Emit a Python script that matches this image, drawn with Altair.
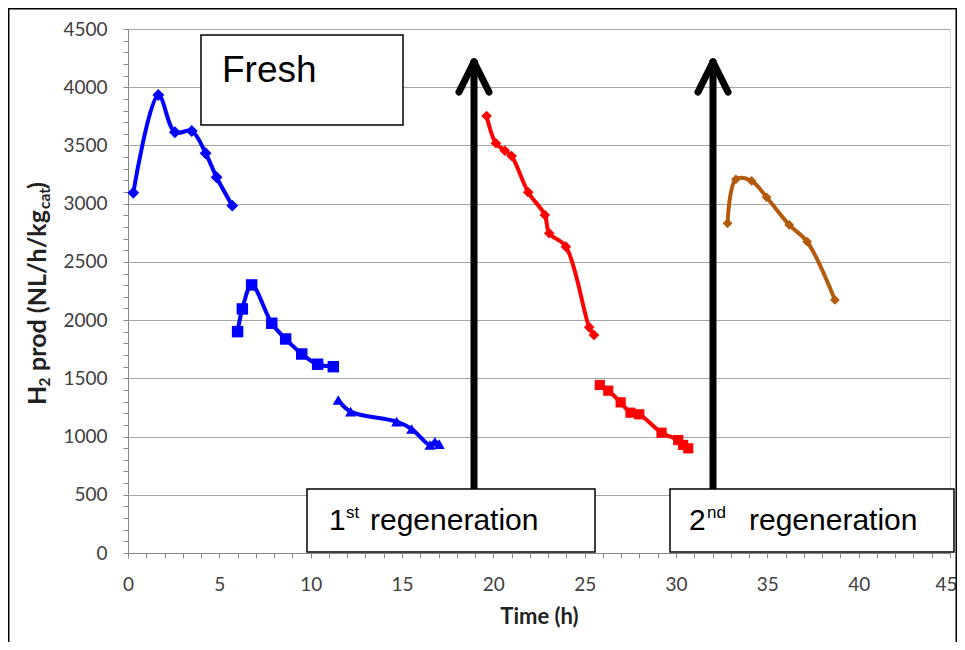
import altair as alt
import pandas as pd

# ---- data ----
fresh_a_t = [0.29, 1.66, 2.57, 3.49, 4.25, 4.85, 5.71]
fresh_a_v = [3094, 3933, 3613, 3624, 3433, 3227, 2983]
fresh_b_t = [6.0, 6.26, 6.77, 7.87, 8.63, 9.51, 10.38, 11.24]
fresh_b_v = [1901, 2096, 2302, 1973, 1838, 1709, 1621, 1600]
fresh_c_t = [11.51, 12.19, 14.71, 15.53, 16.53, 16.80, 17.04]
fresh_c_v = [1314, 1214, 1128, 1065, 928, 956, 935]
reg1_a_t = [19.63, 20.14, 20.63, 21.0, 21.91, 22.82, 23.06, 23.97, 25.25, 25.51]
reg1_a_v = [3753, 3519, 3455, 3409, 3098, 2903, 2746, 2631, 1938, 1872]
reg1_b_t = [25.83, 26.29, 26.97, 27.51, 27.99, 29.21, 30.12, 30.39, 30.67]
reg1_b_v = [1443, 1394, 1294, 1205, 1191, 1033, 970, 928, 899]
reg2_a_t = [32.82, 33.28, 34.14, 34.96, 36.2, 37.18, 38.7]
reg2_a_v = [2831, 3209, 3195, 3055, 2817, 2673, 2173]

series_names = ["Fresh A", "Fresh B", "Fresh C", "Reg1 A", "Reg1 B", "Reg2 A"]
series_colors = ["#0000FF", "#0000FF", "#0000FF", "#FF0000", "#FF0000", "#B35A0C"]
series_shapes = ["diamond", "square", "triangle-up", "diamond", "square", "diamond"]
series_sizes = [140, 95, 170, 140, 95, 140]

x_ticks = list(range(0, 46))
y_ticks = list(range(0, 4501, 100))
x_labels_every = 5
y_labels_every = 500

rows = []
for name, ts, vs in zip(series_names,
                        [fresh_a_t, fresh_b_t, fresh_c_t, reg1_a_t, reg1_b_t, reg2_a_t],
                        [fresh_a_v, fresh_b_v, fresh_c_v, reg1_a_v, reg1_b_v, reg2_a_v]):
    for t, v in zip(ts, vs):
        rows.append({"series": name, "time": t, "h2": v})
df = pd.DataFrame(rows)

W, H = 822, 524
AXC = "#868686"

x_axis = alt.Axis(values=x_ticks, format="d",
                  labelExpr=f"datum.value % {x_labels_every} === 0 ? datum.label : ''",
                  labelOverlap=False,
                  labelOffset={"condition": {"test": f"datum.value === {x_ticks[-1]}", "value": -4}, "value": 0},
                  grid=False, tickSize=5, tickColor=AXC, domainColor=AXC,
                  labelFont="Lato", labelFontSize=19, labelColor="#404040",
                  labelPadding=17, labelFlush=False,
                  title="Time (h)", titleFont="Lato", titleFontSize=22,
                  titleFontWeight="bold", titleColor="#222", titlePadding=12)
y_axis = alt.Axis(values=y_ticks, format="d",
                  labelExpr=f"datum.value % {y_labels_every} === 0 ? datum.label : ''",
                  labelOverlap=False,
                  gridOpacity={"condition": {"test": f"datum.value % {y_labels_every} === 0 && datum.value > 0",
                                             "value": 1}, "value": 0},
                  grid=True, gridColor="#A6A6A6", gridWidth=1,
                  tickSize=5, tickColor=AXC, domainColor=AXC,
                  labelFont="Lato", labelFontSize=19, labelColor="#404040",
                  labelPadding=16, labelFlush=False, title=None)

x_enc = alt.X("time:Q", scale=alt.Scale(domain=[0, 45], nice=False), axis=x_axis)
y_enc = alt.Y("h2:Q", scale=alt.Scale(domain=[0, 4500], nice=False), axis=y_axis)

color_enc = alt.Color("series:N", scale=alt.Scale(domain=series_names, range=series_colors), legend=None)
shape_enc = alt.Shape("series:N", scale=alt.Scale(domain=series_names, range=series_shapes), legend=None)
size_enc = alt.Size("series:N", scale=alt.Scale(domain=series_names, range=series_sizes), legend=None)

base = alt.Chart(df)
lines = base.mark_line(strokeWidth=4, interpolate="catmull-rom", strokeCap="round").encode(
    x=x_enc, y=y_enc, color=color_enc, detail="series:N")
points = base.mark_point(filled=True, opacity=1).encode(
    x=x_enc, y=y_enc, color=color_enc, shape=shape_enc, size=size_enc)

anno = pd.DataFrame({"a": [0]})
A = alt.Chart(anno)


def box(x1, x2, y1, y2):
    return A.mark_rect(fill="white", stroke="black", strokeWidth=1.5).encode(
        x=alt.value(x1), x2=alt.value(x2), y=alt.value(y1), y2=alt.value(y2))


def txt(s, x, y, size, font="Liberation Sans", align="left", color="black", **kw):
    return A.mark_text(text=s, font=font, fontSize=size, align=align,
                       baseline="alphabetic", color=color, **kw).encode(
        x=alt.value(x), y=alt.value(y))


def seg(x1, y1, x2, y2):
    return A.mark_rule(strokeWidth=7, color="black", strokeCap="round").encode(
        x=alt.value(x1), x2=alt.value(x2), y=alt.value(y1), y2=alt.value(y2))


arrows = []
for ax in [346, 585]:
    arrows += [seg(ax, 33, ax, 462), seg(ax - 15, 63, ax, 33), seg(ax + 15, 63, ax, 33)]

RP = 7  # right padding
# outer frame (bottom edge falls outside the picture, as in the reference)
frame = A.mark_rect(fill="transparent", stroke="black", strokeWidth=1.5).encode(
    x=alt.value(-119.25), x2=alt.value(W + RP - 0.75), y=alt.value(-20.25), y2=alt.value(H + 120))

# y title with subscripts, rotated (reads bottom to top)
TF = dict(font="Lato", fontWeight="bold", angle=270, color="#222")
yt = [
    txt("H", -82, 376, 25, **TF),
    txt("2", -78, 357.5, 15.5, **TF),
    txt("prod (NL/h/kg", -82, 342, 25, **TF),
    txt("cat", -78, 180, 15.5, **TF),
    txt(")", -82, 160, 25, **TF),
]

annots = [
    box(73, 275, 6, 96), txt("Fresh", 94, 53, 37),
    box(179, 467, 460, 523), txt("1", 201, 501, 30), txt("st", 218, 489, 17),
    txt("regeneration", 242, 501, 30),
    box(542, 826, 460, 523), txt("2", 561, 501, 30), txt("nd", 579, 489, 17),
    txt("regeneration", 621, 501, 30),
]

chart = alt.layer(lines, points, *arrows, *annots, frame, *yt).properties(
    width=W, height=H,
    autosize=alt.AutoSizeParams(type="none"),
    padding={"left": 120, "top": 21, "right": RP, "bottom": 89},
).configure_view(strokeWidth=0).configure(background="white")

chart.save("out.html", embed_options={"renderer": "svg", "actions": False})
